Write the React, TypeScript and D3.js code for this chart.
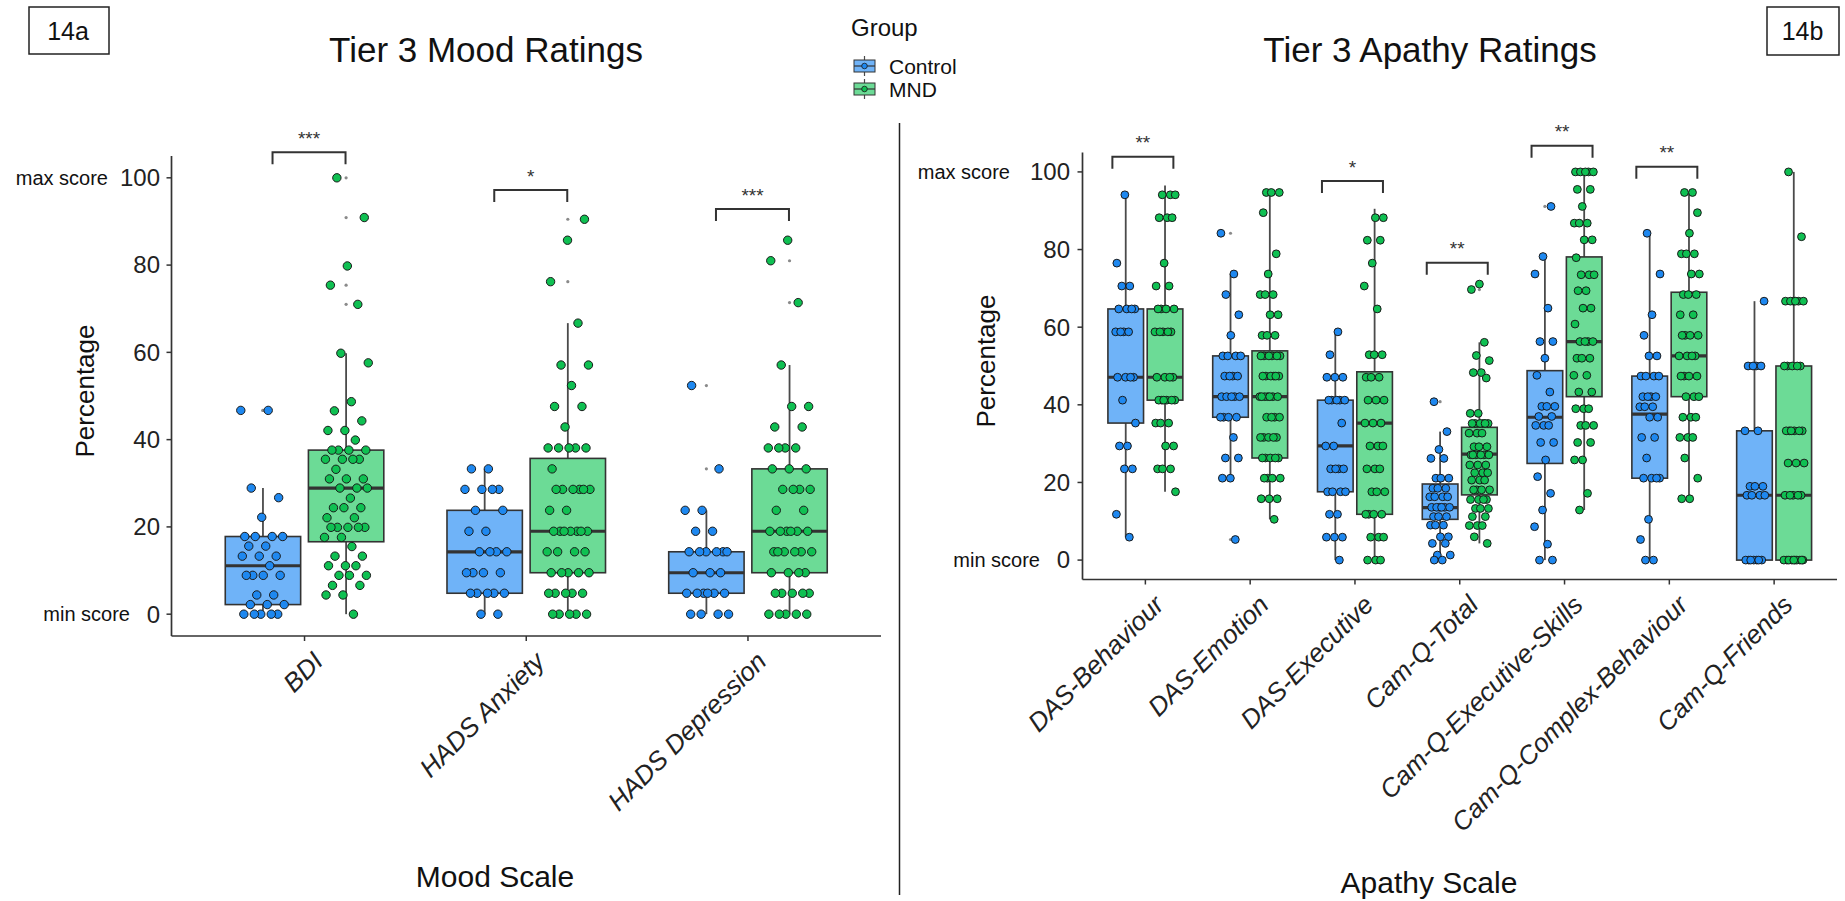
import React from 'react';
import * as d3 from 'd3';

// ---------- categories ----------
const groups = ['Control', 'MND'];
const moodScales = ['BDI', 'HADS Anxiety', 'HADS Depression'];
const apathyScales = [
  'DAS-Behaviour', 'DAS-Emotion', 'DAS-Executive', 'Cam-Q-Total',
  'Cam-Q-Executive-Skills', 'Cam-Q-Complex-Behaviour', 'Cam-Q-Friends',
];
const yTicks = [0, 20, 40, 60, 80, 100];

// ---------- mood scale observations (percentage) ----------
const bdiControl = [46.7, 46.7, 28.9, 26.7, 22.2, 17.8, 17.8, 17.8, 17.8, 15.6, 15.6, 13.3, 13.3, 13.3, 11.1, 8.9, 8.9, 8.9, 8.9, 4.4, 4.4, 2.2, 2.2, 2.2, 0, 0, 0, 0, 0];
const bdiMnd = [100, 90.9, 79.8, 75.4, 71.0, 59.8, 57.6, 48.7, 46.6, 44.3, 42.1, 42.1, 39.9, 37.6, 37.6, 37.6, 37.6, 35.5, 35.5, 35.5, 35.5, 33.2, 31.0, 31.0, 31.0, 28.9, 28.9, 28.9, 26.6, 24.4, 24.4, 24.4, 22.1, 22.1, 19.9, 19.9, 19.9, 19.9, 19.9, 17.6, 17.6, 15.5, 13.3, 13.3, 11.1, 11.1, 11.1, 8.9, 8.9, 8.9, 6.6, 6.6, 4.4, 4.4, 0];
const anxControl = [33.3, 33.3, 28.6, 28.6, 28.6, 28.6, 23.8, 23.8, 19.0, 19.0, 14.3, 14.3, 14.3, 14.3, 9.5, 9.5, 9.5, 9.5, 4.8, 4.8, 4.8, 4.8, 4.8, 0, 0];
const anxMnd = [90.5, 85.7, 76.2, 66.7, 57.1, 57.1, 52.4, 47.6, 47.6, 42.9, 38.1, 38.1, 38.1, 38.1, 38.1, 33.3, 28.6, 28.6, 28.6, 28.6, 28.6, 28.6, 23.8, 23.8, 19.0, 19.0, 19.0, 19.0, 19.0, 19.0, 19.0, 14.3, 14.3, 14.3, 14.3, 9.5, 9.5, 9.5, 9.5, 9.5, 4.8, 4.8, 4.8, 4.8, 4.8, 0, 0, 0, 0, 0];
const depControl = [52.4, 33.3, 23.8, 23.8, 19.0, 19.0, 14.3, 14.3, 14.3, 14.3, 14.3, 14.3, 9.5, 9.5, 9.5, 4.8, 4.8, 4.8, 4.8, 4.8, 4.8, 0, 0, 0, 0];
const depMnd = [85.7, 81.0, 71.4, 57.1, 47.6, 47.6, 42.9, 42.9, 38.1, 38.1, 38.1, 38.1, 33.3, 33.3, 33.3, 28.6, 28.6, 28.6, 28.6, 23.8, 23.8, 19.0, 19.0, 19.0, 19.0, 19.0, 19.0, 14.3, 14.3, 14.3, 14.3, 14.3, 14.3, 9.5, 9.5, 9.5, 9.5, 4.8, 4.8, 4.8, 4.8, 4.8, 0, 0, 0, 0, 0];

// box stats: [lower whisker, Q1, median, Q3, upper whisker]
const bdiControlBox = [0, 2.2, 11.1, 17.8, 28.9];
const bdiMndBox = [0, 16.6, 28.9, 37.6, 59.8];
const anxControlBox = [0, 4.8, 14.3, 23.8, 33.3];
const anxMndBox = [0, 9.5, 19.0, 35.7, 66.7];
const depControlBox = [0, 4.8, 9.5, 14.3, 23.8];
const depMndBox = [0, 9.5, 19.0, 33.3, 57.1];

// ---------- apathy scale observations (percentage) ----------
const dasBehControl = [94.1, 76.5, 70.6, 70.6, 64.7, 64.7, 64.7, 64.7, 58.8, 58.8, 58.8, 58.8, 47.1, 47.1, 47.1, 47.1, 41.2, 35.3, 29.4, 29.4, 23.5, 23.5, 11.8, 5.9];
const dasBehMnd = [94.1, 94.1, 94.1, 88.2, 88.2, 88.2, 76.5, 70.6, 70.6, 64.7, 64.7, 64.7, 64.7, 58.8, 58.8, 58.8, 58.8, 58.8, 47.1, 47.1, 47.1, 47.1, 41.2, 41.2, 41.2, 41.2, 41.2, 41.2, 35.3, 35.3, 35.3, 29.4, 29.4, 23.5, 23.5, 23.5, 17.6];
const dasEmoControl = [84.2, 73.7, 68.4, 63.2, 57.9, 52.6, 52.6, 52.6, 52.6, 47.4, 47.4, 47.4, 47.4, 42.1, 42.1, 42.1, 42.1, 42.1, 36.8, 36.8, 36.8, 36.8, 31.6, 26.3, 26.3, 21.1, 21.1, 5.3];
const dasEmoMnd = [94.7, 94.7, 94.7, 89.5, 78.9, 73.7, 68.4, 68.4, 68.4, 63.2, 63.2, 57.9, 57.9, 57.9, 52.6, 52.6, 52.6, 52.6, 52.6, 52.6, 47.4, 47.4, 47.4, 47.4, 47.4, 47.4, 42.1, 42.1, 42.1, 42.1, 42.1, 42.1, 42.1, 36.8, 36.8, 36.8, 36.8, 31.6, 31.6, 31.6, 31.6, 31.6, 26.3, 26.3, 26.3, 26.3, 26.3, 21.1, 21.1, 21.1, 21.1, 15.8, 15.8, 15.8, 10.5];
const dasExeControl = [58.8, 52.9, 47.1, 47.1, 47.1, 41.2, 41.2, 41.2, 41.2, 41.2, 35.3, 29.4, 29.4, 23.5, 23.5, 23.5, 23.5, 17.6, 17.6, 17.6, 17.6, 11.8, 11.8, 5.9, 5.9, 5.9, 0];
const dasExeMnd = [88.2, 88.2, 82.4, 82.4, 76.5, 70.6, 64.7, 52.9, 52.9, 52.9, 47.1, 47.1, 47.1, 41.2, 41.2, 41.2, 35.3, 35.3, 35.3, 29.4, 29.4, 29.4, 23.5, 23.5, 23.5, 17.6, 17.6, 17.6, 11.8, 11.8, 11.8, 11.8, 5.9, 5.9, 5.9, 0, 0, 0];
const camTotControl = [40.8, 33.1, 28.5, 26.2, 26.2, 21.1, 21.1, 21.1, 18.5, 18.5, 18.5, 16.3, 16.3, 16.3, 16.3, 13.6, 13.6, 13.6, 13.6, 13.6, 13.6, 11.2, 11.2, 11.2, 9.0, 9.0, 9.0, 6.0, 6.0, 4.3, 4.3, 1.3, 1.3, 0, 0];
const camTotMnd = [71.1, 69.7, 56.1, 52.7, 51.4, 48.3, 48.3, 46.9, 37.8, 37.8, 35.2, 35.2, 35.2, 35.2, 35.2, 35.2, 32.7, 32.7, 32.7, 29.2, 29.2, 29.2, 27.1, 27.1, 27.1, 27.1, 27.1, 27.1, 24.5, 24.5, 24.5, 22.5, 22.5, 22.5, 20.6, 20.6, 20.6, 18.1, 18.1, 18.1, 18.1, 15.6, 15.6, 15.6, 15.6, 13.3, 13.3, 13.3, 11.2, 11.2, 8.9, 8.9, 8.9, 6.0, 4.3];
const camExeControl = [91.1, 78.2, 73.7, 64.9, 56.3, 56.3, 52.0, 47.6, 43.3, 39.6, 39.6, 39.6, 37.0, 37.0, 34.7, 34.7, 34.7, 30.3, 30.3, 25.8, 21.5, 17.2, 12.9, 8.6, 4.1, 0, 0];
const camExeMnd = [100, 100, 100, 100, 100, 95.5, 95.5, 91.1, 86.8, 86.8, 86.8, 82.5, 82.5, 77.9, 73.5, 73.5, 73.5, 69.4, 69.4, 64.9, 64.9, 60.8, 56.3, 56.3, 56.3, 56.3, 52.0, 52.0, 52.0, 47.6, 47.6, 43.3, 43.3, 39.0, 39.0, 39.0, 34.7, 34.7, 34.7, 30.3, 30.3, 25.8, 25.8, 17.2, 12.9];
const camCbControl = [84.2, 73.7, 63.2, 57.9, 52.6, 52.6, 47.4, 47.4, 47.4, 47.4, 42.1, 42.1, 42.1, 42.1, 39.5, 39.5, 39.5, 36.8, 36.8, 31.6, 31.6, 26.3, 21.1, 21.1, 21.1, 21.1, 10.5, 5.3, 0, 0];
const camCbMnd = [94.7, 94.7, 89.5, 84.2, 78.9, 78.9, 78.9, 73.7, 73.7, 68.4, 68.4, 68.4, 63.2, 63.2, 57.9, 57.9, 57.9, 57.9, 52.6, 52.6, 52.6, 52.6, 47.4, 47.4, 47.4, 47.4, 42.1, 42.1, 42.1, 36.8, 36.8, 36.8, 31.6, 31.6, 31.6, 26.3, 21.1, 15.8, 15.8];
const camFrControl = [66.7, 50, 50, 50, 50, 33.3, 33.3, 19.0, 19.0, 19.0, 16.7, 16.7, 16.7, 16.7, 0, 0, 0, 0, 0, 0, 0];
const camFrMnd = [100, 83.3, 66.7, 66.7, 66.7, 66.7, 66.7, 66.7, 50, 50, 50, 50, 50, 33.3, 33.3, 33.3, 33.3, 33.3, 33.3, 25, 25, 25, 16.7, 16.7, 16.7, 16.7, 16.7, 0, 0, 0, 0, 0, 0, 0, 0, 0, 0];

const dasBehControlBox = [5.9, 35.3, 47.1, 64.7, 94.1];
const dasBehMndBox = [17.6, 41.2, 47.1, 64.7, 96.5];
const dasEmoControlBox = [21.1, 36.8, 42.1, 52.6, 73.7];
const dasEmoMndBox = [10.5, 26.3, 42.1, 53.9, 94.7];
const dasExeControlBox = [0, 17.6, 29.4, 41.2, 58.8];
const dasExeMndBox = [0, 11.8, 35.3, 48.5, 90.5];
const camTotControlBox = [0, 10.5, 13.5, 19.6, 33.1];
const camTotMndBox = [4.3, 16.8, 27.3, 34.2, 56.1];
const camExeControlBox = [0, 24.9, 36.8, 48.8, 78.2];
const camExeMndBox = [12.9, 42.1, 56.3, 78.1, 100];
const camCbControlBox = [0, 21.1, 37.6, 47.4, 84.2];
const camCbMndBox = [15.8, 42.1, 52.6, 69.0, 94.7];
const camFrControlBox = [0, 0, 16.7, 33.3, 66.7];
const camFrMndBox = [0, 0, 16.7, 50, 100];

// significance labels and bracket heights (percentage units)
const moodSignif = ['***', '*', '***'];
const moodBracketY = [105.85, 97.2, 92.85];
const apathySignif = ['**', '', '*', '**', '**', '**', ''];
const apathyBracketY = [103.9, 0, 97.66, 76.6, 106.75, 101.3, 0];

// ---------- assembled per panel ----------
const moodPoints = [[bdiControl, bdiMnd], [anxControl, anxMnd], [depControl, depMnd]];
const moodBoxes = [[bdiControlBox, bdiMndBox], [anxControlBox, anxMndBox], [depControlBox, depMndBox]];
const apathyPoints = [
  [dasBehControl, dasBehMnd], [dasEmoControl, dasEmoMnd], [dasExeControl, dasExeMnd],
  [camTotControl, camTotMnd], [camExeControl, camExeMnd], [camCbControl, camCbMnd], [camFrControl, camFrMnd],
];
const apathyBoxes = [
  [dasBehControlBox, dasBehMndBox], [dasEmoControlBox, dasEmoMndBox], [dasExeControlBox, dasExeMndBox],
  [camTotControlBox, camTotMndBox], [camExeControlBox, camExeMndBox], [camCbControlBox, camCbMndBox], [camFrControlBox, camFrMndBox],
];

// ---------- styles ----------
const boxFill = ['#6fb3f8', '#6cdb96'];
const pointFill = ['#1e88f0', '#0fc052'];
const ink = '#333333';
const FONT = '"Liberation Sans", Arial, sans-serif';

type PanelCfg = {
  cats: string[];
  points: number[][][];
  boxes: number[][][];
  signif: string[];
  bracketY: number[];
  xRange: [number, number];
  yRange: [number, number];
  bracketL: number;
  bracketR: number;
  r: number;
  maxLabel: [number, string];
  minLabel: [number, string];
  tickLabelX: number;
  yTitleX: number;
  yTitleY: number;
  xTitle: string;
  xTitleX: number;
  xTitleY: number;
  title: string;
  titleX: number;
};

function Panel({ cfg, seed }: { cfg: PanelCfg; seed: number }) {
  const x = d3.scalePoint<string>().domain(cfg.cats).range(cfg.xRange).padding(0.6);
  const y = d3.scaleLinear().domain([-5, 105]).range(cfg.yRange);
  const step = x.step();
  const dodge = 0.1875 * step;
  const boxW = 0.34 * step;
  const jw = 0.1 * step;
  const axisY = cfg.yRange[0];
  const axisX = cfg.xRange[0];

  return (
    <g>
      <text x={cfg.titleX} y={62} textAnchor="middle" fontSize={35} fontFamily={FONT} fill="#111">{cfg.title}</text>
      {cfg.cats.map((c, ci) => groups.map((g, gi) => {
        const cx = (x(c) as number) + (gi === 0 ? -dodge : dodge);
        const b = cfg.boxes[ci][gi];
        const pts = cfg.points[ci][gi];
        return (
          <g key={c + g}>
            <line x1={cx} x2={cx} y1={y(b[4])} y2={y(b[3])} stroke="#4a4a4a" strokeWidth={1.8} />
            <line x1={cx} x2={cx} y1={y(b[1])} y2={y(b[0])} stroke="#4a4a4a" strokeWidth={1.8} />
            <rect x={cx - boxW / 2} y={y(b[3])} width={boxW} height={Math.max(0.5, y(b[1]) - y(b[3]))}
              fill={boxFill[gi]} stroke={ink} strokeWidth={1.6} />
            <line x1={cx - boxW / 2} x2={cx + boxW / 2} y1={y(b[2])} y2={y(b[2])} stroke={ink} strokeWidth={3.2} />
            {pts.filter(v => v > b[4] + 0.05 || v < b[0] - 0.05).map((v, i) => (
              <circle key={'o' + i} cx={cx} cy={y(v)} r={1.6} fill="#8a8a8a" />
            ))}
            {pts.map((v, i) => {
              const f = ((i * 0.6180339887 + (seed + ci * 2 + gi) * 0.2917) % 1) - 0.5;
              return (
                <circle key={i} cx={cx + f * 2 * jw} cy={y(v)} r={cfg.r}
                  fill={pointFill[gi]} stroke="#1a1a1a" strokeWidth={1} />
              );
            })}
          </g>
        );
      }))}
      {cfg.cats.map((c, ci) => {
        if (!cfg.signif[ci]) return null;
        const cx = x(c) as number;
        const top = y(cfg.bracketY[ci]);
        const l = cx + cfg.bracketL;
        const r = cx + cfg.bracketR;
        return (
          <g key={'s' + c}>
            <path d={`M${l},${top + 12}L${l},${top}L${r},${top}L${r},${top + 12}`} fill="none" stroke={ink} strokeWidth={2} />
            <text x={(l + r) / 2} y={top - 18.4 + 11} textAnchor="middle" fontSize={19} fontFamily={FONT} fill="#333">{cfg.signif[ci]}</text>
          </g>
        );
      })}
      <line x1={axisX} x2={axisX} y1={cfg.yRange[1]} y2={axisY} stroke={ink} strokeWidth={1.7} />
      <line x1={axisX} x2={cfg.xRange[1]} y1={axisY} y2={axisY} stroke={ink} strokeWidth={1.7} />
      {yTicks.map(t => (
        <g key={'yt' + t}>
          <line x1={axisX - 5} x2={axisX} y1={y(t)} y2={y(t)} stroke={ink} strokeWidth={1.5} />
          <text x={cfg.tickLabelX} y={y(t)} dy="0.35em" textAnchor="end" fontSize={24} fontFamily={FONT} fill="#222">{t}</text>
        </g>
      ))}
      <text x={cfg.maxLabel[0]} y={y(100)} dy="0.35em" textAnchor="end" fontSize={20} fontFamily={FONT} fill="#111">{cfg.maxLabel[1]}</text>
      <text x={cfg.minLabel[0]} y={y(0)} dy="0.35em" textAnchor="end" fontSize={20} fontFamily={FONT} fill="#111">{cfg.minLabel[1]}</text>
      {cfg.cats.map(c => {
        const cx = x(c) as number;
        return (
          <g key={'xt' + c}>
            <line x1={cx} x2={cx} y1={axisY} y2={axisY + 5} stroke={ink} strokeWidth={1.5} />
            <text transform={`translate(${cx + 20},${axisY + 27}) rotate(-45)`} textAnchor="end" fontSize={26}
              fontStyle="italic" fontFamily={FONT} fill="#222">{c}</text>
          </g>
        );
      })}
      <text transform={`translate(${cfg.yTitleX},${cfg.yTitleY}) rotate(-90)`} textAnchor="middle" fontSize={26} fontFamily={FONT} fill="#111">Percentage</text>
      <text x={cfg.xTitleX} y={cfg.xTitleY} textAnchor="middle" fontSize={30} fontFamily={FONT} fill="#111">{cfg.xTitle}</text>
    </g>
  );
}

const moodCfg: PanelCfg = {
  cats: moodScales, points: moodPoints, boxes: moodBoxes, signif: moodSignif, bracketY: moodBracketY,
  xRange: [171.5, 881], yRange: [636, 156], bracketL: -32, bracketR: 41, r: 4.2,
  maxLabel: [108, 'max score'], minLabel: [130, 'min score'], tickLabelX: 160,
  yTitleX: 94, yTitleY: 391, xTitle: 'Mood Scale', xTitleX: 495, xTitleY: 887,
  title: 'Tier 3 Mood Ratings', titleX: 486,
};
const apathyCfg: PanelCfg = {
  cats: apathyScales, points: apathyPoints, boxes: apathyBoxes, signif: apathySignif, bracketY: apathyBracketY,
  xRange: [1082.5, 1837], yRange: [579.5, 152.5], bracketL: -33, bracketR: 28, r: 3.9,
  maxLabel: [1010, 'max score'], minLabel: [1040, 'min score'], tickLabelX: 1070,
  yTitleX: 995, yTitleY: 361, xTitle: 'Apathy Scale', xTitleX: 1429, xTitleY: 893,
  title: 'Tier 3 Apathy Ratings', titleX: 1430,
};

export default function App() {
  return (
    <svg width={1845} height={901} style={{ position: 'absolute', left: 0, top: 0, display: 'block', background: '#fff' }}>
      <rect x={0} y={0} width={1845} height={901} fill="#fff" />
      <rect x={29} y={7} width={80} height={47} fill="none" stroke="#222" strokeWidth={1.5} />
      <text x={68} y={40} textAnchor="middle" fontSize={25} fontFamily={FONT} fill="#111">14a</text>
      <rect x={1767} y={7} width={72} height={48} fill="none" stroke="#222" strokeWidth={1.5} />
      <text x={1802.5} y={40} textAnchor="middle" fontSize={25} fontFamily={FONT} fill="#111">14b</text>
      <line x1={899.5} x2={899.5} y1={123} y2={895} stroke="#222" strokeWidth={1.5} />
      <text x={851} y={36} fontSize={24} fontFamily={FONT} fill="#111">Group</text>
      {groups.map((g, gi) => {
        const cy = gi === 0 ? 66 : 89;
        return (
          <g key={'lg' + g}>
            <line x1={864.5} x2={864.5} y1={cy - 10} y2={cy + 10} stroke="#4a4a4a" strokeWidth={1.2} />
            <rect x={854} y={cy - 6} width={21} height={12} fill={boxFill[gi]} stroke={ink} strokeWidth={1} />
            <line x1={854} x2={875} y1={cy} y2={cy} stroke={ink} strokeWidth={1.2} />
            <circle cx={864.5} cy={cy} r={2.8} fill={pointFill[gi]} stroke="#1a1a1a" strokeWidth={0.8} />
            <text x={889} y={cy + 7.5} fontSize={21} fontFamily={FONT} fill="#111">{g}</text>
          </g>
        );
      })}
      <Panel cfg={moodCfg} seed={0} />
      <Panel cfg={apathyCfg} seed={5} />
    </svg>
  );
}
